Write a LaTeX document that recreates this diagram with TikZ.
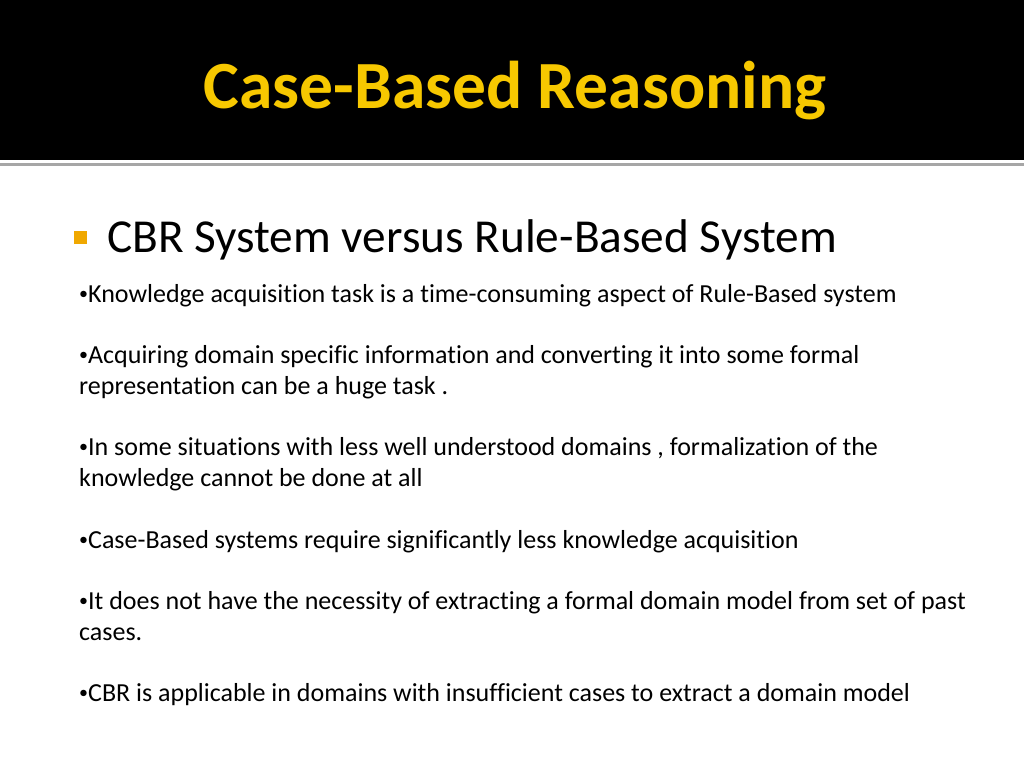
\documentclass[tikz,border=0pt]{standalone}
\usepackage{fontspec}
\setmainfont{Carlito}[Ligatures={NoCommon}]
\definecolor{gold}{HTML}{F7C800}
\definecolor{bulletc}{HTML}{F0A800}
\definecolor{rulec}{HTML}{A6A6A6}
\newcommand{\bul}{{\fontsize{18}{18}\selectfont\raisebox{2.8pt}{•}}}
\begin{document}
\begin{tikzpicture}[x=1pt,y=-1pt,
  body/.style={anchor=base west,inner sep=0pt,font=\fontsize{26}{31}\selectfont,text=black}]
\useasboundingbox (0,0) rectangle (1024,768);
\fill[white] (0,0) rectangle (1024,768);
\fill[black] (0,0) rectangle (1024,160);
\fill[rulec] (0,163) rectangle (1024,166);
\node[anchor=base,inner sep=0pt,text=gold,font=\fontsize{67.5}{72}\selectfont\bfseries] (title) at (515,108) {Case-Based Reasoning};
\fill[bulletc] (74,231) rectangle (87,244);
\node[anchor=base west,inner sep=0pt,font=\fontsize{47.3}{52}\selectfont] (sub) at (107,252) {CBR System versus Rule-Based System};
\node[body] (l1) at (79,302) {\bul Knowledge acquisition task is a time-consuming aspect of Rule-Based system};
\node[body] (l2) at (79,363) {\bul Acquiring domain specific information and converting it into some formal};
\node[body] (l3) at (79,394) {representation can be a huge task .};
\node[body] (l4) at (79,455) {\bul In some situations with less well understood domains , formalization of the};
\node[body] (l5) at (79,486) {knowledge cannot be done at all};
\node[body] (l6) at (79,548) {\bul Case-Based systems require significantly less knowledge acquisition};
\node[body] (l7) at (79,609) {\bul It does not have the necessity of extracting a formal domain model from set of past};
\node[body] (l8) at (79,640) {cases.};
\node[body] (l9) at (79,701) {\bul CBR is applicable in domains with insufficient cases to extract a domain model};
\end{tikzpicture}
\end{document}
